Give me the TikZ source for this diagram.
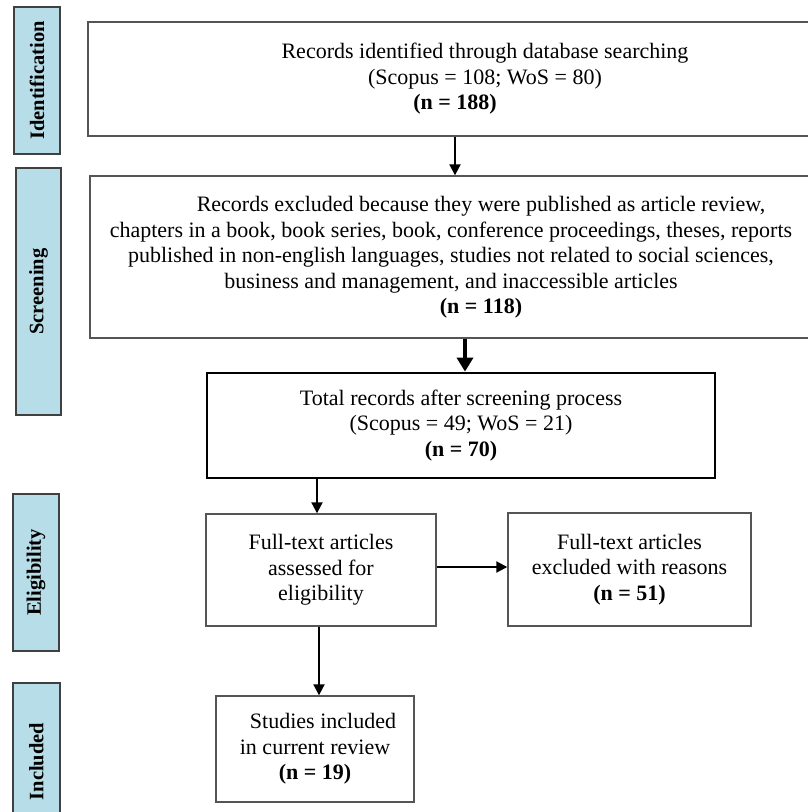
\documentclass[tikz,border=0pt]{standalone}
\usepackage{fontspec}
\setmainfont{Liberation Serif}
\usetikzlibrary{arrows.meta}
\definecolor{sideblue}{HTML}{B7DEE8}
\definecolor{edgegray}{HTML}{555555}
\begin{document}
\begin{tikzpicture}[x=1pt,y=-1pt,
  box/.style={draw=edgegray, line width=1.4pt, rectangle, inner sep=0pt, align=center,
    font=\fontsize{22}{25.5}\selectfont},
  thickbox/.style={draw=black, line width=2.8pt, rectangle, inner sep=0pt, align=center,
    font=\fontsize{22}{25.5}\selectfont},
  txt/.style={align=center, inner sep=0pt, font=\fontsize{22}{25.5}\selectfont},
  side/.style={draw=black!75, fill=sideblue, line width=1.4pt, rotate=90, inner sep=0pt,
    font=\fontsize{20.5}{22}\selectfont\bfseries},
  arr/.style={-{Triangle[length=11pt,width=11pt]}, line width=2pt},
  bigarr/.style={-{Triangle[length=14pt,width=16pt]}, line width=3.5pt}
]
\useasboundingbox (0,0) rectangle (807,812);

% side labels
\node[side, minimum width=147pt, minimum height=46pt] (sid) at (37,80.5) {Identification};
\node[side, minimum width=247pt, minimum height=45pt] (ssc) at (38.5,291.5) {Screening};
\node[side, minimum width=157pt, minimum height=46pt] (sel) at (36,572.5) {Eligibility};
\node[side, minimum width=157pt, minimum height=47pt] (sin) at (36.5,761.5) {Included};

% boxes
\node[box, minimum width=742pt, minimum height=114pt] (b1) at (459,79) {};
\node[txt] (t1) at (485,79) {Records identified through database searching\\(Scopus = 108; WoS = 80)\\\hspace*{-60pt}\textbf{(n = 188)}};

\node[box, minimum width=740pt, minimum height=162pt] (b2) at (460,257) {};
\node[txt] (t2) at (451,257.5) {\hspace*{60pt}Records excluded because they were published as article review,\\
chapters in a book, book series, book, conference proceedings, theses, reports\\
published in non-english languages, studies not related to social sciences,\\
business and management, and inaccessible articles\\
\hspace*{60pt}\textbf{(n = 118)}};

\node[thickbox, minimum width=508pt, minimum height=105pt] (b3) at (461,425.5)
  {Total records after screening process\\(Scopus = 49; WoS = 21)\\\textbf{(n = 70)}};

\node[box, minimum width=230pt, minimum height=112pt] (b4) at (321,570)
  {Full-text articles\\assessed for\\eligibility};

\node[box, minimum width=243pt, minimum height=113pt] (b5) at (629.5,569.5)
  {Full-text articles\\excluded with reasons\\\textbf{(n = 51)}};

\node[box, minimum width=198pt, minimum height=106pt] (b6) at (315,749)
  {\hspace*{16pt}Studies included\\in current review\\\textbf{(n = 19)}};

% connector positions
\coordinate (a1) at (455,0);
\coordinate (a2) at (465,0);
\coordinate (a3) at (317,0);
\coordinate (a4) at (0,567);
\coordinate (a5) at (319,0);

\draw[arr] (a1 |- b1.south) -- (a1 |- b2.north);
\draw[bigarr] (a2 |- b2.south) -- (a2 |- b3.north);
\draw[arr] (a3 |- b3.south) -- (a3 |- b4.north);
\draw[arr] (b4.east |- a4) -- (b5.west |- a4);
\draw[arr] (a5 |- b4.south) -- (a5 |- b6.north);
\end{tikzpicture}
\end{document}
